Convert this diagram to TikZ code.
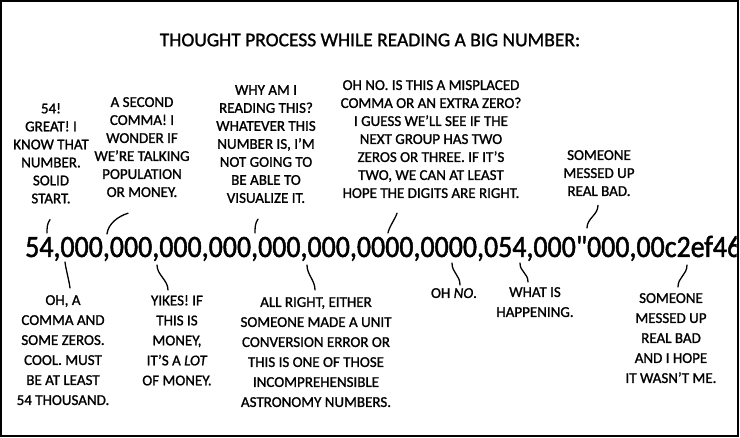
\documentclass[tikz,border=0pt]{standalone}
\usepackage{fontspec}
\setmainfont[FakeBold=1.2]{Carlito}
\newfontfamily\numfont[FakeStretch=0.9,FakeBold=1.5]{Carlito}
\tikzset{
  thought/.style={align=center,inner sep=0pt,font=\fontsize{15}{18}\selectfont},
  thoughtlow/.style={thought,font=\fontsize{15}{20}\selectfont},
  squiggle/.style={line width=1.3pt,line cap=round},
}
\begin{document}
\begin{tikzpicture}[x=1pt,y=-1pt]
\useasboundingbox (0,0) rectangle (740,438);
\draw[line width=2pt] (1,1) rectangle (737.5,436);
\node[font=\fontsize{19.5}{22}\selectfont] (title) at (370,40) {THOUGHT PROCESS WHILE READING A BIG NUMBER:};

% the number runs out of the panel
\begin{scope}
  \clip (2,2) rectangle (736.5,435);
  \node[anchor=base west,inner sep=0pt,font=\numfont\fontsize{31}{31}\selectfont] (num) at (25,257)
    {54,000,000,000,000,000,000,0000,0000,054,000"000,00c2ef46};
\end{scope}

% thoughts above
\node[thought,anchor=north] (c1) at (51,103) {54!\\GREAT! I\\KNOW THAT\\NUMBER.\\SOLID\\START.};
\node[thought,anchor=north] (c2) at (142,97) {A SECOND\\COMMA! I\\WONDER IF\\WE'RE TALKING\\POPULATION\\OR MONEY.};
\node[thought,anchor=north] (c3) at (266,85) {WHY AM I\\READING THIS?\\WHATEVER THIS\\NUMBER IS, I'M\\NOT GOING TO\\BE ABLE TO\\VISUALIZE IT.};
\node[thought,anchor=north] (c4) at (431,80) {OH NO. IS THIS A MISPLACED\\COMMA OR AN EXTRA ZERO?\\I GUESS WE'LL SEE IF THE\\NEXT GROUP HAS TWO\\ZEROS OR THREE. IF IT'S\\TWO, WE CAN AT LEAST\\HOPE THE DIGITS ARE RIGHT.};
\node[thought,anchor=north] (c5) at (599,150) {SOMEONE\\MESSED UP\\REAL BAD.};

% thoughts below
\node[thoughtlow,anchor=north] (o1) at (63,295) {OH, A\\COMMA AND\\SOME ZEROS.\\COOL. MUST\\BE AT LEAST\\54 THOUSAND.};
\node[thoughtlow,anchor=north] (o2) at (177,295) {YIKES! IF\\THIS IS\\MONEY,\\IT'S A \textit{LOT}\\OF MONEY.};
\node[thoughtlow,anchor=north] (o3) at (316,297) {ALL RIGHT, EITHER\\SOMEONE MADE A UNIT\\CONVERSION ERROR OR\\THIS IS ONE OF THOSE\\INCOMPREHENSIBLE\\ASTRONOMY NUMBERS.};
\node[thoughtlow,anchor=north] (o4) at (454,288) {OH \textit{NO}.};
\node[thoughtlow,anchor=north] (o5) at (535,287) {WHAT IS\\HAPPENING.};
\node[thoughtlow,anchor=north] (o6) at (671,293) {SOMEONE\\MESSED UP\\REAL BAD\\AND I HOPE\\IT WASN'T ME.};

% where the thoughts land on the number
\coordinate (t1) at (47,233);
\coordinate (t2) at (107,234);
\coordinate (t3) at (255,233);
\coordinate (t4) at (388,233);
\coordinate (t5) at (587,228);
\coordinate (b1) at (65,262);
\coordinate (b2) at (157,265);
\coordinate (b3) at (307,265);
\coordinate (b4) at (452,263);
\coordinate (b5) at (520,263);
\coordinate (b6) at (687,265);

\draw[squiggle] (c1.south) ++(-1,16) .. controls +(-3,4) and +(0,-5) .. (t1);
\draw[squiggle] (c2.south) ++(-14,16) .. controls +(-10,3) and +(1,-10) .. (t2);
\draw[squiggle] (c3.south) ++(-8,16) .. controls +(-3,4) and +(0,-5) .. (t3);
\draw[squiggle] (c4.south) ++(-34,15) .. controls +(-2,6) and +(1,-6) .. (t4);
\draw[squiggle] (c5.south) ++(-1,9) .. controls +(0,10) and +(0,-10) .. (t5);

\draw[squiggle] (b1) .. controls +(1,8) and +(-1,-8) .. ([shift={(7,-7)}]o1.north);
\draw[squiggle] (b2) .. controls +(0,10) and +(0,-10) .. ([shift={(-9,-5)}]o2.north);
\draw[squiggle] (b3) .. controls +(0,10) and +(0,-10) .. ([shift={(-1,-7)}]o3.north);
\draw[squiggle] (b4) .. controls +(0,10) and +(0,-10) .. ([shift={(6,-3)}]o4.north);
\draw[squiggle] (b5) .. controls +(0,9) and +(0,-9) .. ([shift={(-7,-5)}]o5.north);
\draw[squiggle] (b6) .. controls +(0,10) and +(0,-10) .. ([shift={(7,-6)}]o6.north);
\end{tikzpicture}
\end{document}
